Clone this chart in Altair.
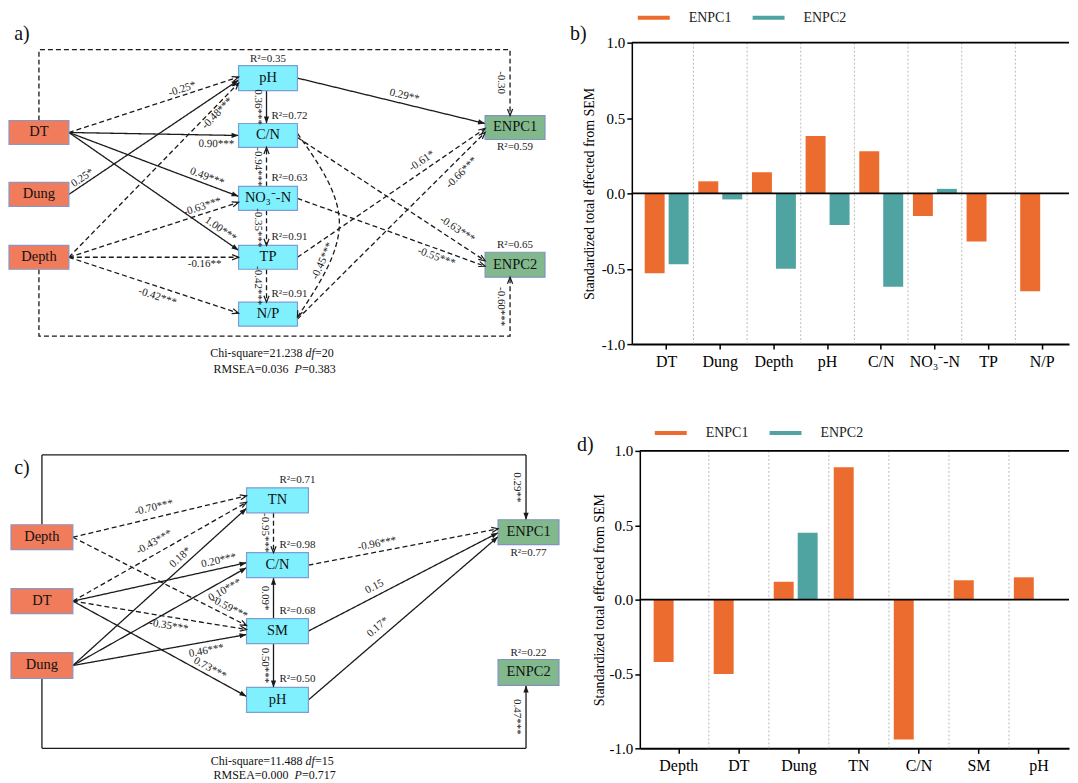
import math
import altair as alt
import pandas as pd

FONT = "Liberation Serif"
INK = "#1a1a1a"

# ---------------- data: bar panels (b, d) ----------------
b_factors = ["DT", "Dung", "Depth", "pH", "C/N", "NO₃⁻-N", "TP", "N/P"]
b_enpc1 = [-0.53, 0.08, 0.14, 0.38, 0.28, -0.15, -0.32, -0.65]
b_enpc2 = [-0.47, -0.04, -0.50, -0.21, -0.62, 0.03, None, None]

d_factors = ["Depth", "DT", "Dung", "TN", "C/N", "SM", "pH"]
d_enpc1 = [-0.42, -0.50, 0.12, 0.89, -0.94, 0.13, 0.15]
d_enpc2 = [None, None, 0.45, None, None, None, None]

series = ["ENPC1", "ENPC2"]
series_colors = ["#EC6C2F", "#4FA3A0"]
y_ticks = [-1.0, -0.5, 0.0, 0.5, 1.0]
y_title = "Standardized total effected from SEM"

# ---------------- data: SEM path diagram a ----------------
a_nodes = ["DT", "Dung", "Depth", "pH", "CN", "NO3", "TP", "NP", "ENPC1", "ENPC2"]
a_labels = ["DT", "Dung", "Depth", "pH", "C/N", "NO₃⁻-N", "TP", "N/P", "ENPC1", "ENPC2"]
a_kinds = ["driver"] * 3 + ["soil"] * 5 + ["enpc"] * 2
a_r2 = [None, None, None, "0.35", "0.72", "0.63", "0.91", "0.91", "0.59", "0.65"]
a_from = ["DT", "Dung", "Depth", "DT", "DT", "DT", "Depth", "Depth", "Depth",
          "pH", "NO3", "NO3", "TP", "pH", "TP", "NP", "CN", "NO3"]
a_to = ["pH", "pH", "pH", "CN", "NO3", "TP", "NO3", "TP", "NP",
        "CN", "CN", "TP", "NP", "ENPC1", "ENPC1", "ENPC1", "ENPC2", "ENPC2"]
a_coef = ["-0.25*", "0.25*", "-0.48***", "0.90***", "0.49***", "1.00***", "-0.63***", "-0.16**", "-0.42***",
          "0.36***", "-0.94***", "-0.35***", "-0.42***", "0.29**", "-0.61*", "-0.66***", "-0.63***", "-0.55***"]
a_route_from = ["DT", "Depth"]
a_route_to = ["ENPC1", "ENPC2"]
a_route_coef = ["-0.30", "-0.60***"]
a_curve_from, a_curve_to, a_curve_coef = "CN", "NP", "-0.45***"
a_stats = [("Chi-square=21.238", "df", "=20"), ("RMSEA=0.036", "P", "=0.383")]

# ---------------- data: SEM path diagram c ----------------
c_nodes = ["Depth", "DT", "Dung", "TN", "CN", "SM", "pH", "ENPC1", "ENPC2"]
c_labels = ["Depth", "DT", "Dung", "TN", "C/N", "SM", "pH", "ENPC1", "ENPC2"]
c_kinds = ["driver"] * 3 + ["soil"] * 4 + ["enpc"] * 2
c_r2 = [None, None, None, "0.71", "0.98", "0.68", "0.50", "0.77", "0.22"]
c_from = ["Depth", "DT", "Dung", "DT", "Dung", "Depth", "DT", "Dung", "DT",
          "TN", "SM", "SM", "CN", "SM", "pH"]
c_to = ["TN", "TN", "TN", "CN", "CN", "SM", "SM", "SM", "pH",
        "CN", "CN", "pH", "ENPC1", "ENPC1", "ENPC1"]
c_coef = ["-0.70***", "-0.43***", "0.18*", "0.20***", "0.10***", "-0.59***", "-0.35***", "0.46***", "0.73***",
          "-0.95***", "0.09*", "0.50***", "-0.96***", "0.15", "0.17*"]
c_route_from = ["Depth", "Dung"]
c_route_to = ["ENPC1", "ENPC2"]
c_route_coef = ["0.29**", "0.47***"]
c_stats = [("Chi-square=11.488", "df", "=15"), ("RMSEA=0.000", "P", "=0.717")]

# ---------------- layout (figure pixel coordinates) ----------------
STYLE = {"driver": ("#F07C5C", "#8C96C4"), "soil": ("#80F0FF", "#7A9FD2"), "enpc": ("#82B98C", "#8093C2")}

a_layout = dict(
    boxes={"DT": (9, 69, 119, 143), "Dung": (9, 69, 181, 205), "Depth": (9, 69, 244, 268),
           "pH": (239, 298, 64, 89), "CN": (239, 298, 122, 146), "NO3": (239, 298, 185, 209),
           "TP": (239, 298, 244, 268), "NP": (239, 298, 301, 325),
           "ENPC1": (486, 546, 114, 138), "ENPC2": (486, 546, 251, 276)},
    r2pos={"pH": "above", "CN": "ar", "NO3": "ar", "TP": "ar", "NP": "ar", "ENPC1": "below", "ENPC2": "above"},
    edges=[("r", 0, "l", -1, 0.68, -6), ("r", 0, "l", 2, 0.1, -6), ("r", 0, "l", 5, 0.85, 6),
           ("r", 0, "l", 0, 0.87, 9), ("r", 0, "l", -2, 0.8, -7), ("r", 0, "l", -7, 0.87, -7),
           ("r", 0, "l", 4, 0.8, -7), ("r", 0, "l", 0, 0.8, 7), ("r", 0, "l", -1, 0.54, 10),
           ("b", -1.5, "t", -1.5, 0.5, 9), ("t", -1.5, "b", -1.5, 0.5, 9), ("b", -1.5, "t", -1.5, 0.5, 9),
           ("b", -1.5, "t", -1.5, 0.5, 9), ("r", 0, "l", -4, 0.56, -8), ("r", 0, "l", 1, 0.69, -9),
           ("r", 5, "l", 5, 0.83, 12), ("r", 2, "l", -4, 0.82, -11), ("r", 0, "l", 1.5, 0.755, 8)],
    routes=[("t", 0, "t", -5, 48), ("b", 0, "b", -5, 335)],
    curve=("r", -2, "r", 3, (340, 222)),
    stats_y=[352, 368], stats_cx=272,
    panel=("a)", 22, 32), ytop=41, ybot=398,
)

c_layout = dict(
    boxes={"Depth": (11, 73, 523, 548), "DT": (11, 73, 587, 612), "Dung": (11, 73, 651, 677),
           "TN": (247, 309, 486, 511), "CN": (247, 309, 551, 576), "SM": (247, 309, 617, 642),
           "pH": (247, 309, 686, 711), "ENPC1": (499, 560, 518, 543), "ENPC2": (499, 560, 658, 684)},
    r2pos={"TN": "ar", "CN": "ar", "SM": "ar", "pH": "ar", "ENPC1": "below", "ENPC2": "above"},
    edges=[("r", 0, "l", -4.5, 0.48, -10), ("r", 0, "l", 2, 0.5, -11), ("r", 0, "l", 8, 0.65, -8),
           ("r", 0, "l", -2.5, 0.85, -8), ("r", 0, "l", 2.5, 0.85, 9), ("r", 0, "l", -5.5, 0.88, -8),
           ("r", 0, "l", -1.5, 0.56, 9), ("r", 0, "l", 3.5, 0.76, 9), ("r", 0, "l", -3.5, 0.77, -7),
           ("b", -4, "t", -4, 0.5, 9), ("t", -4, "b", -4, 0.5, 9), ("b", -4, "t", -4, 0.5, 9),
           ("r", 0, "l", -3.5, 0.37, -8), ("r", 0, "l", 0.5, 0.37, -9), ("r", 0, "l", 4.5, 0.4, -10)],
    routes=[("t", 0, "t", -2.5, 453), ("b", 0, "b", -2.5, 747)],
    curve=None,
    stats_y=[760, 774], stats_cx=272,
    panel=("c)", 22, 466), ytop=449, ybot=775,
)

HEAD_SOLID = "M0,0L-0.75,2L0.75,2Z"
HEAD_OPEN = "M-0.8,2L0,0L0.8,2"


def anchor(box, side, d):
    x0, x1, y0, y1 = box
    cx, cy = (x0 + x1) / 2, (y0 + y1) / 2
    return {"r": (x1, cy + d), "l": (x0, cy + d), "t": (cx + d, y0), "b": (cx + d, y1)}[side]


def text_angle(dx, dy):
    a = math.degrees(math.atan2(dy, dx))
    if a > 90:
        a -= 180
    if a <= -90:
        a += 180
    return a


def head_angle(dx, dy):
    return math.degrees(math.atan2(dx, -dy)) % 360


def label_at(p, q, t, off):
    dx, dy = q[0] - p[0], q[1] - p[1]
    a = text_angle(dx, dy)
    r = math.radians(a)
    return p[0] + t * dx - off * math.sin(r), p[1] + t * dy + off * math.cos(r), a % 360


def build_diagram(nodes, labels, kinds, r2, efrom, eto, ecoef, rfrom, rto, rcoef, curve, stats, L):
    boxes = L["boxes"]
    xs = alt.Scale(domain=[8, 570], nice=False, zero=False)
    ys = alt.Scale(domain=[L["ybot"], L["ytop"]], nice=False, zero=False)
    X = alt.X("x:Q", scale=xs, axis=None)
    Y = alt.Y("y:Q", scale=ys, axis=None)
    dash = alt.StrokeDash("style:N", scale=alt.Scale(domain=["solid", "dashed"], range=[[1, 0], [5, 3]]), legend=None)

    edges, heads, elabels, paths = [], [], [], []
    for (f, t, c, (ss, sd, ds, dd, lt, lo)) in zip(efrom, eto, ecoef, L["edges"]):
        s = anchor(boxes[f], ss, sd)
        e = anchor(boxes[t], ds, dd)
        st = "dashed" if c.startswith("-") else "solid"
        edges.append(dict(x=s[0], y=s[1], x2=e[0], y2=e[1], style=st))
        heads.append(dict(x=e[0], y=e[1], ang=head_angle(e[0] - s[0], e[1] - s[1]), style=st))
        lx, ly, la = label_at(s, e, lt, lo)
        elabels.append(dict(x=lx, y=ly, text=c, ang=la))
    for k, (f, t, c, (ss, sd, ds, dd, lev)) in enumerate(zip(rfrom, rto, rcoef, L["routes"])):
        s = anchor(boxes[f], ss, sd)
        e = anchor(boxes[t], ds, dd)
        st = "dashed" if c.startswith("-") else "solid"
        pts = [s, (s[0], lev), (e[0], lev), e]
        for o, p in enumerate(pts):
            paths.append(dict(pid=f"r{k}", ord=o, x=p[0], y=p[1], style=st))
        heads.append(dict(x=e[0], y=e[1], ang=head_angle(e[0] - pts[2][0], e[1] - pts[2][1]), style=st))
        lx, ly, la = label_at(pts[2], e, 0.5, 9)
        elabels.append(dict(x=lx, y=ly, text=c, ang=la))

    curve_rows = []
    if curve is not None:
        f, t, c = curve
        ss, sd, ds, dd, m = L["curve"]
        s = anchor(boxes[f], ss, sd)
        e = anchor(boxes[t], ds, dd)
        for o, p in enumerate([s, m, e]):
            curve_rows.append(dict(ord=o, x=p[0], y=p[1]))
        heads.append(dict(x=e[0], y=e[1], ang=head_angle(e[0] - m[0], e[1] - m[1]), style="dashed"))
        lx, ly, la = label_at(m, e, 0.4, 0)
        elabels.append(dict(x=lx, y=ly, text=c, ang=la))

    node_rows, r2_left, r2_center = [], [], []
    for n, lab, k, r in zip(nodes, labels, kinds, r2):
        x0, x1, y0, y1 = boxes[n]
        node_rows.append(dict(x=x0, x2=x1, y=y0, y2=y1, cx=(x0 + x1) / 2, cy=(y0 + y1) / 2,
                              label=lab, fill=STYLE[k][0], stroke=STYLE[k][1]))
        if r is None:
            continue
        pos = L["r2pos"][n]
        txt = "R²=" + r
        if pos == "ar":
            r2_left.append(dict(x=x0 + 33, y=y0 - 8, text=txt))
        elif pos == "above":
            r2_center.append(dict(x=(x0 + x1) / 2, y=y0 - 7, text=txt))
        else:
            r2_center.append(dict(x=(x0 + x1) / 2, y=y1 + 8, text=txt))

    cx = L["stats_cx"]
    st_norm_r, st_norm_l, st_ital = [], [], []
    offs = [(31, 34, 43.5), (17, 23, 30.5)]
    for (p1, p2, p3), yy, (o1, o2, o3) in zip(stats, L["stats_y"], offs):
        st_norm_r.append(dict(x=cx + o1, y=yy, text=p1))
        st_ital.append(dict(x=cx + o2, y=yy, text=p2))
        st_norm_l.append(dict(x=cx + o3, y=yy, text=p3))

    layers = []
    layers.append(alt.Chart(pd.DataFrame(paths)).mark_line(color=INK, strokeWidth=1.3).encode(
        x=X, y=Y, order="ord:Q", detail="pid:N", strokeDash=dash))
    layers.append(alt.Chart(pd.DataFrame(edges)).mark_rule(color=INK, strokeWidth=1.3).encode(
        x=X, y=Y, x2="x2:Q", y2="y2:Q", strokeDash=dash))
    if curve_rows:
        layers.append(alt.Chart(pd.DataFrame(curve_rows)).mark_line(
            color=INK, strokeWidth=1.3, strokeDash=[5, 3], interpolate="natural").encode(x=X, y=Y, order="ord:Q"))
    nd = pd.DataFrame(node_rows)
    layers.append(alt.Chart(nd).mark_rect(strokeWidth=1.2).encode(
        x=X, y=Y, x2="x2:Q", y2="y2:Q",
        fill=alt.Fill("fill:N", scale=None), stroke=alt.Stroke("stroke:N", scale=None)))
    layers.append(alt.Chart(nd).mark_text(font=FONT, fontSize=14.5, color="#111").encode(
        x=alt.X("cx:Q", scale=xs, axis=None), y=alt.Y("cy:Q", scale=ys, axis=None), text="label:N"))
    hd = pd.DataFrame(heads)
    layers.append(alt.Chart(hd[hd["style"] == "solid"]).mark_point(
        shape=HEAD_SOLID, filled=True, size=49, opacity=1, color=INK).encode(
        x=X, y=Y, angle=alt.Angle("ang:Q", scale=None)))
    layers.append(alt.Chart(hd[hd["style"] == "dashed"]).mark_point(
        shape=HEAD_OPEN, filled=False, size=42, opacity=1, color=INK, strokeWidth=1.2).encode(
        x=X, y=Y, angle=alt.Angle("ang:Q", scale=None)))
    layers.append(alt.Chart(pd.DataFrame(elabels)).mark_text(font=FONT, fontSize=11, color="#222").encode(
        x=X, y=Y, text="text:N", angle=alt.Angle("ang:Q", scale=None)))
    if r2_left:
        layers.append(alt.Chart(pd.DataFrame(r2_left)).mark_text(font=FONT, fontSize=11, align="left", color="#222").encode(
            x=X, y=Y, text="text:N"))
    if r2_center:
        layers.append(alt.Chart(pd.DataFrame(r2_center)).mark_text(font=FONT, fontSize=11, color="#222").encode(
            x=X, y=Y, text="text:N"))
    layers.append(alt.Chart(pd.DataFrame(st_norm_r)).mark_text(font=FONT, fontSize=12, align="right", color="#111").encode(
        x=X, y=Y, text="text:N"))
    layers.append(alt.Chart(pd.DataFrame(st_ital)).mark_text(font=FONT, fontSize=12, align="left", fontStyle="italic", color="#111").encode(
        x=X, y=Y, text="text:N"))
    layers.append(alt.Chart(pd.DataFrame(st_norm_l)).mark_text(font=FONT, fontSize=12, align="left", color="#111").encode(
        x=X, y=Y, text="text:N"))
    pl, px, py = L["panel"]
    layers.append(alt.Chart(pd.DataFrame([dict(x=px, y=py, text=pl)])).mark_text(
        font=FONT, fontSize=20, color="#111").encode(x=X, y=Y, text="text:N"))
    return alt.layer(*layers).properties(width=562, height=L["ybot"] - L["ytop"])


def build_bars(factors, v1, v2, width, height, x_po, off_pi, off_po, title_x, legend_xy, panel_xy,
               panel_label, anchor_xy):
    rows = []
    for f, a, b in zip(factors, v1, v2):
        if a is not None:
            rows.append(dict(factor=f, series=series[0], value=a))
        if b is not None:
            rows.append(dict(factor=f, series=series[1], value=b))
    df = pd.DataFrame(rows)
    xs = alt.Scale(domain=factors, paddingInner=0, paddingOuter=x_po, align=1)
    ys = alt.Scale(domain=[-1, 1], nice=False, zero=True)
    xaxis = alt.Axis(labelAngle=0, labelAlign="center", labelFont=FONT, labelFontSize=16, labelColor="black",
                     labelPadding=4, tickSize=5, tickColor="black", tickWidth=1.5, domainColor="black",
                     domainWidth=2, grid=False, title=None)
    yaxis = alt.Axis(values=y_ticks,
                     labelExpr="(datum.value < 0 ? '-' : '') + format(abs(datum.value), '.1f')",
                     labelFont=FONT, labelFontSize=15, labelColor="black", labelPadding=2,
                     tickSize=5, tickColor="black", tickWidth=1.5, domainColor="black", domainWidth=1.5,
                     grid=False, title=y_title, titleX=title_x, titleY=height / 2, titleAngle=270,
                     titleAlign="center", titleBaseline="middle", titleFont=FONT, titleFontSize=14,
                     titleFontWeight="normal", titleColor="black")
    bars = alt.Chart(df).mark_bar().encode(
        x=alt.X("factor:N", scale=xs, axis=xaxis, title=None),
        xOffset=alt.XOffset("series:N", scale=alt.Scale(domain=series, paddingInner=off_pi, paddingOuter=off_po)),
        y=alt.Y("value:Q", scale=ys, axis=yaxis),
        color=alt.Color("series:N", scale=alt.Scale(domain=series, range=series_colors), legend=None))
    seps = alt.Chart(pd.DataFrame(dict(factor=factors[1:]))).mark_rule(
        color="#AAAAAA", strokeDash=[2, 2], strokeWidth=0.8).encode(
        x=alt.X("factor:N", scale=xs, bandPosition=0, axis=None), y=alt.value(0), y2=alt.value(height))
    extra = []
    extra.append(alt.Chart(pd.DataFrame(dict(z=[0.0, 1.0]))).mark_rule(color="black", strokeWidth=1.7).encode(
        y=alt.Y("z:Q", scale=ys, title=y_title)))
    lx, ly = legend_xy
    for k, (s, col) in enumerate(zip(series, series_colors)):
        x0 = lx + 115 * k
        one = pd.DataFrame(dict(s=[s]))
        extra.append(alt.Chart(one).mark_rule(color=col, strokeWidth=4).encode(
            x=alt.value(x0), x2=alt.value(x0 + 32), y=alt.value(ly)))
        extra.append(alt.Chart(one).mark_text(font=FONT, fontSize=14, align="left", color="#222").encode(
            x=alt.value(x0 + 51), y=alt.value(ly), text="s:N"))
    extra.append(alt.Chart(pd.DataFrame(dict(t=[panel_label]))).mark_text(
        font=FONT, fontSize=20, align="left", color="#111").encode(
        x=alt.value(panel_xy[0]), y=alt.value(panel_xy[1]), text="t:N"))
    extra.append(alt.Chart(pd.DataFrame(dict(t=[0]))).mark_point(opacity=0, size=1).encode(
        x=alt.value(anchor_xy[0]), y=alt.value(anchor_xy[1])))
    return alt.layer(seps, bars, *extra).resolve_scale(x="independent").properties(width=width, height=height)


diag_a = build_diagram(a_nodes, a_labels, a_kinds, a_r2, a_from, a_to, a_coef,
                       a_route_from, a_route_to, a_route_coef,
                       (a_curve_from, a_curve_to, a_curve_coef), a_stats, a_layout)
diag_c = build_diagram(c_nodes, c_labels, c_kinds, c_r2, c_from, c_to, c_coef,
                       c_route_from, c_route_to, c_route_coef, None, c_stats, c_layout)
bars_b = build_bars(b_factors, b_enpc1, b_enpc2, 438, 302, 0.0744, 0.167, 0.203, -42,
                    (6, -25), (-62, -9), "b)", (-62, -33))
bars_d = build_bars(d_factors, d_enpc1, d_enpc2, 430, 298, 0.0749, 0.154, 0.233, -40,
                    (15, -18), (-63, -6), "d)", (-70, -51))

chart = alt.vconcat(
    alt.hconcat(diag_a, bars_b, spacing=0),
    alt.hconcat(diag_c, bars_d, spacing=0),
    spacing=0,
).properties(padding=0, background="white").configure_view(stroke=None)

chart.save("out.html", embed_options={"renderer": "svg", "actions": False})
